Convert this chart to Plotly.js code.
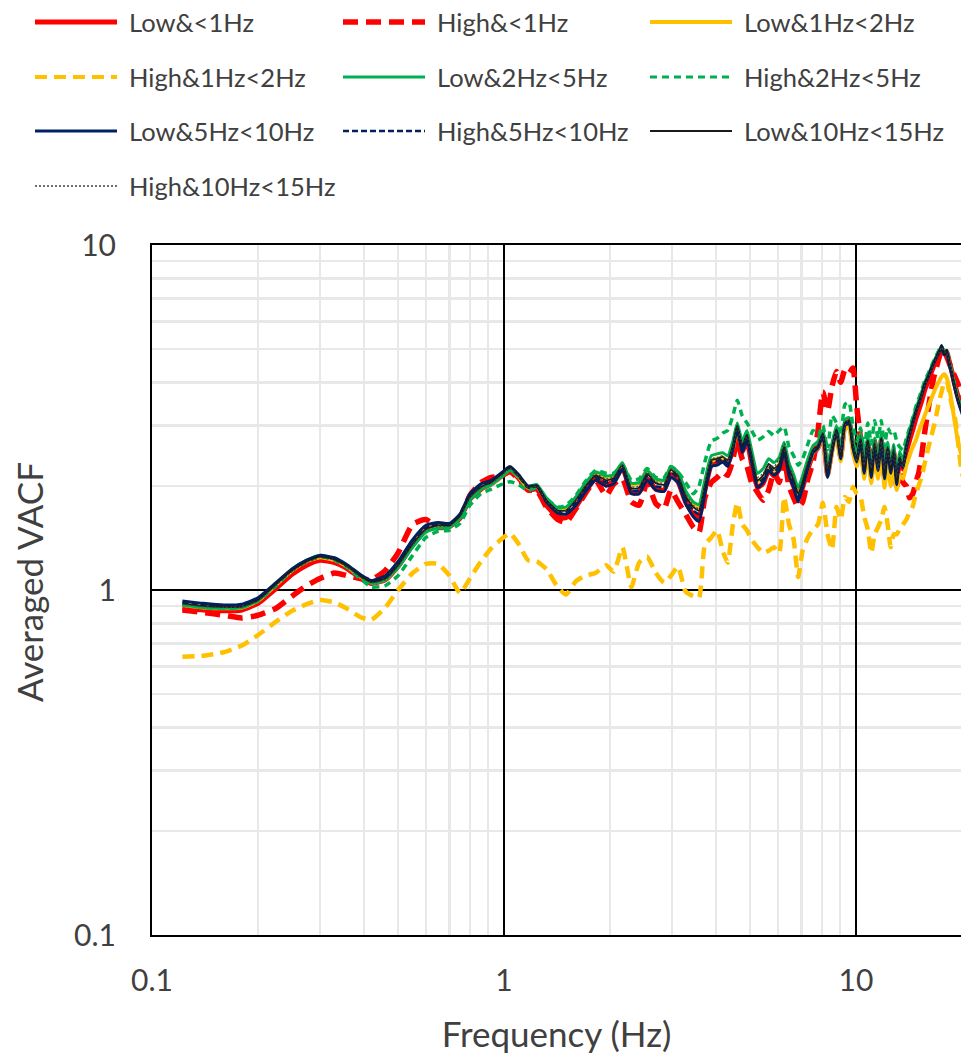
<!DOCTYPE html>
<html>
<head>
<meta charset="utf-8">
<script src="https://cdn.plot.ly/plotly-3.0.1.min.js"></script>
<style>
  html, body { margin: 0; padding: 0; background: #fff; overflow: hidden; }
  #chart { width: 961px; height: 1055px; }
</style>
</head>
<body>
<div id="chart"></div>
<script>
// Frequency sampling points (Hz)
const freq = [
  0.122,0.14,0.16,0.18,0.2,0.225,0.25,0.275,0.3,0.33,
  0.36,0.39,0.42,0.46,0.5,0.55,0.6,0.65,0.7,0.75,
  0.8,0.86,0.92,0.98,1.04,1.1,1.17,1.24,1.32,1.42,
  1.5,1.6,1.7,1.82,1.95,2.05,2.17,2.3,2.42,2.55,
  2.7,2.85,2.98,3.12,3.28,3.45,3.58,3.72,3.88,4.03,
  4.18,4.32,4.47,4.6,4.75,4.9,5.05,5.25,5.45,5.65,
  5.85,6.05,6.25,6.45,6.65,6.85,7.05,7.3,7.55,7.8,
  8.05,8.3,8.55,8.8,9.05,9.3,9.55,9.8,10.05,10.3,
  10.55,10.8,11.05,11.3,11.55,11.8,12.05,12.3,12.55,12.8,
  13.05,13.3,13.6,13.9,14.2,14.5,14.8,15.1,15.4,15.7,
  16.0,16.3,16.6,16.9,17.2,17.5,17.8,18.1,18.4,18.7,
  19.0,19.3,19.6,19.9,20.2
];

// Averaged VACF for each amplitude / frequency-band class
const lowBelow1 = [
  0.885,0.875,0.87,0.875,0.915,1.01,1.11,1.18,1.22,1.20,
  1.15,1.085,1.045,1.07,1.17,1.35,1.49,1.53,1.53,1.62,
  1.83,1.96,2.03,2.13,2.22,2.11,1.95,1.96,1.76,1.63,
  1.62,1.74,1.92,2.10,2.02,2.06,2.26,1.92,1.92,2.10,
  1.96,1.95,2.16,2.06,1.80,1.66,1.62,1.94,2.30,2.34,
  2.38,2.32,2.55,2.90,2.52,2.70,2.32,1.98,2.04,2.22,
  2.14,2.24,2.50,2.16,2.00,1.84,1.98,2.24,2.48,2.58,
  2.80,2.16,2.56,2.88,2.42,3.00,3.08,2.62,2.38,2.72,
  2.20,2.68,2.14,2.62,2.24,2.72,2.12,2.56,2.18,2.50,
  2.02,2.36,2.24,2.52,2.72,2.92,3.14,3.34,3.56,3.82,
  4.00,4.22,4.44,4.62,4.82,5.02,4.86,4.90,4.60,4.32,
  4.02,3.78,3.58,3.42,3.28
];
const highBelow1 = [
  0.875,0.86,0.845,0.83,0.845,0.885,0.96,1.03,1.08,1.12,
  1.10,1.08,1.07,1.14,1.28,1.55,1.60,1.52,1.53,1.62,
  1.88,2.05,2.12,2.14,2.20,2.10,1.95,1.94,1.74,1.60,
  1.57,1.72,1.90,2.08,1.88,2.03,2.10,1.80,1.76,2.05,
  1.78,1.72,1.95,1.80,1.66,1.52,1.47,1.85,2.05,2.12,
  2.20,2.15,2.40,2.72,2.40,2.28,2.05,1.92,1.82,1.95,
  2.20,2.05,2.42,2.00,1.85,1.74,1.80,2.10,2.35,2.90,
  3.75,3.30,3.90,4.30,4.00,4.35,4.25,4.40,3.40,2.75,
  2.30,2.65,2.20,2.70,2.25,2.60,2.20,2.50,2.15,2.45,
  2.00,2.20,2.05,2.00,1.85,1.90,2.05,2.20,2.50,2.90,
  3.30,3.70,4.10,4.40,4.70,4.95,5.00,4.75,4.55,4.35,
  4.20,4.05,3.90,3.75,3.65
];
const low1to2 = [
  0.905,0.89,0.885,0.89,0.93,1.035,1.14,1.21,1.245,1.22,
  1.165,1.095,1.05,1.075,1.17,1.35,1.49,1.53,1.53,1.63,
  1.84,1.97,2.03,2.13,2.24,2.13,1.98,2.00,1.82,1.70,
  1.71,1.85,2.02,2.18,2.12,2.15,2.32,2.02,2.04,2.22,
  2.08,2.08,2.27,2.18,1.92,1.78,1.74,2.02,2.36,2.40,
  2.42,2.36,2.58,2.94,2.58,2.76,2.42,2.06,2.12,2.28,
  2.22,2.30,2.56,2.22,2.05,1.88,2.02,2.28,2.50,2.58,
  2.78,2.14,2.50,2.82,2.36,2.92,2.96,2.50,2.28,2.58,
  2.10,2.52,2.04,2.46,2.10,2.52,1.98,2.36,2.00,2.28,
  1.95,2.15,2.10,2.30,2.45,2.60,2.72,2.90,3.05,3.22,
  3.38,3.55,3.72,3.88,4.02,4.15,4.22,4.12,3.85,3.50,
  3.15,2.85,2.62,2.48,2.38
];
const high1to2 = [
  0.64,0.645,0.66,0.69,0.74,0.81,0.87,0.91,0.935,0.92,
  0.88,0.835,0.82,0.89,1.00,1.12,1.19,1.19,1.10,0.98,
  1.08,1.21,1.32,1.40,1.46,1.36,1.22,1.21,1.15,1.02,
  0.97,1.06,1.10,1.12,1.18,1.13,1.33,1.02,1.20,1.25,
  1.12,1.05,1.10,1.17,0.99,0.96,0.95,1.35,1.42,1.49,
  1.30,1.20,1.55,1.79,1.55,1.49,1.40,1.33,1.28,1.30,
  1.33,1.28,1.86,1.55,1.40,1.09,1.30,1.42,1.50,1.55,
  1.79,1.45,1.31,1.74,1.60,1.86,1.80,1.99,1.90,1.86,
  1.63,1.50,1.28,1.45,1.52,1.60,1.74,1.55,1.33,1.45,
  1.45,1.50,1.55,1.60,1.68,1.75,1.90,2.02,2.15,2.35,
  2.55,2.75,2.95,3.20,3.50,3.75,4.00,4.05,3.75,3.45,
  3.25,2.95,2.55,2.25,2.10
];
const low2to5 = [
  0.905,0.89,0.885,0.89,0.93,1.04,1.15,1.22,1.26,1.23,
  1.17,1.095,1.045,1.07,1.16,1.33,1.47,1.51,1.52,1.61,
  1.82,1.96,2.02,2.12,2.22,2.13,2.00,2.02,1.85,1.73,
  1.74,1.86,2.04,2.20,2.14,2.16,2.34,2.04,2.05,2.22,
  2.10,2.08,2.28,2.20,1.94,1.80,1.77,2.08,2.45,2.48,
  2.50,2.45,2.70,3.05,2.70,2.90,2.55,2.18,2.25,2.40,
  2.34,2.42,2.68,2.34,2.16,1.98,2.14,2.40,2.62,2.70,
  2.92,2.30,2.66,3.00,2.55,3.12,3.16,2.72,2.48,2.84,
  2.32,2.80,2.28,2.76,2.38,2.84,2.26,2.68,2.32,2.64,
  2.16,2.52,2.38,2.70,2.92,3.14,3.36,3.56,3.78,4.02,
  4.18,4.38,4.58,4.75,4.92,5.08,4.88,4.94,4.58,4.28,
  3.98,3.72,3.52,3.36,3.22
];
const high2to5 = [
  0.905,0.89,0.885,0.89,0.93,1.03,1.14,1.21,1.25,1.22,
  1.16,1.08,1.02,1.03,1.10,1.26,1.42,1.48,1.49,1.56,
  1.76,1.90,1.96,2.02,2.06,2.02,1.94,1.98,1.84,1.74,
  1.76,1.88,2.06,2.22,2.18,2.18,2.30,2.08,2.10,2.25,
  2.12,2.12,2.28,2.20,2.05,1.90,2.00,2.35,2.70,2.75,
  2.85,2.90,3.20,3.55,3.20,3.05,2.90,2.72,2.78,2.88,
  2.80,2.90,2.97,2.60,2.45,2.30,2.40,2.65,2.90,2.80,
  3.00,2.55,3.20,3.05,2.80,3.45,3.50,3.00,2.70,2.95,
  2.55,3.05,2.65,3.10,2.75,3.10,2.60,2.95,2.85,2.90,
  2.70,2.60,2.55,2.75,2.95,3.15,3.40,3.60,3.82,4.05,
  4.22,4.40,4.60,4.78,4.95,5.10,4.90,4.95,4.60,4.30,
  4.00,3.74,3.54,3.38,3.24
];
const low5to10 = [
  0.93,0.915,0.905,0.91,0.95,1.05,1.15,1.22,1.26,1.24,
  1.18,1.11,1.065,1.10,1.21,1.40,1.54,1.57,1.56,1.66,
  1.90,2.03,2.08,2.18,2.28,2.16,2.00,2.00,1.80,1.67,
  1.66,1.76,1.92,2.08,2.00,2.03,2.24,1.90,1.90,2.08,
  1.95,1.93,2.12,2.05,1.78,1.63,1.58,1.90,2.28,2.30,
  2.35,2.28,2.55,2.92,2.50,2.72,2.35,1.98,2.05,2.22,
  2.15,2.22,2.50,2.15,1.98,1.80,1.98,2.25,2.50,2.58,
  2.80,2.12,2.52,2.88,2.40,3.00,3.05,2.58,2.35,2.70,
  2.18,2.66,2.12,2.60,2.22,2.70,2.10,2.55,2.18,2.50,
  2.02,2.38,2.26,2.58,2.82,3.05,3.28,3.48,3.70,3.95,
  4.12,4.32,4.52,4.70,4.88,5.05,4.80,4.92,4.50,4.22,
  3.92,3.66,3.46,3.30,3.15
];
const high5to10 = [
  0.92,0.905,0.898,0.90,0.94,1.045,1.145,1.215,1.255,1.23,
  1.175,1.105,1.06,1.09,1.20,1.39,1.52,1.55,1.55,1.66,
  1.89,2.02,2.07,2.17,2.26,2.14,1.98,2.00,1.80,1.69,
  1.69,1.80,1.96,2.12,2.05,2.08,2.27,1.94,1.95,2.14,
  2.00,1.99,2.20,2.10,1.83,1.70,1.66,1.96,2.34,2.36,
  2.40,2.34,2.58,2.96,2.58,2.78,2.40,2.04,2.10,2.28,
  2.20,2.28,2.56,2.20,2.04,1.86,2.02,2.28,2.52,2.60,
  2.82,2.16,2.55,2.90,2.42,3.02,3.08,2.60,2.38,2.72,
  2.20,2.70,2.16,2.64,2.25,2.74,2.12,2.58,2.20,2.52,
  2.04,2.40,2.28,2.60,2.84,3.06,3.28,3.48,3.70,3.96,
  4.14,4.34,4.54,4.72,4.90,5.12,4.86,4.96,4.56,4.24,
  3.94,3.68,3.48,3.34,3.18
];
const low10to15 = [
  0.915,0.90,0.893,0.895,0.935,1.04,1.14,1.21,1.25,1.225,
  1.17,1.10,1.055,1.08,1.18,1.36,1.50,1.54,1.54,1.64,
  1.86,1.99,2.05,2.16,2.27,2.15,1.99,2.01,1.82,1.70,
  1.70,1.82,1.99,2.15,2.08,2.11,2.30,1.97,1.98,2.17,
  2.04,2.02,2.23,2.14,1.87,1.74,1.70,2.00,2.38,2.40,
  2.43,2.38,2.62,3.00,2.62,2.82,2.45,2.08,2.15,2.32,
  2.25,2.32,2.60,2.25,2.08,1.90,2.05,2.32,2.55,2.62,
  2.85,2.20,2.58,2.92,2.45,3.05,3.10,2.62,2.40,2.75,
  2.22,2.72,2.18,2.66,2.28,2.76,2.15,2.60,2.22,2.55,
  2.06,2.42,2.30,2.62,2.85,3.08,3.30,3.50,3.72,3.98,
  4.15,4.35,4.55,4.72,4.90,5.10,4.85,4.95,4.55,4.25,
  3.95,3.70,3.50,3.35,3.20
];
const high10to15 = [
  0.91,0.895,0.89,0.893,0.93,1.03,1.13,1.20,1.24,1.22,
  1.16,1.09,1.05,1.07,1.17,1.35,1.49,1.53,1.53,1.63,
  1.85,1.98,2.04,2.14,2.25,2.14,1.98,2.00,1.81,1.69,
  1.70,1.83,2.00,2.17,2.10,2.13,2.31,1.99,2.00,2.19,
  2.06,2.04,2.25,2.16,1.90,1.76,1.72,2.03,2.40,2.42,
  2.45,2.36,2.60,2.96,2.66,2.78,2.50,2.12,2.18,2.30,
  2.28,2.40,2.66,2.30,2.12,1.95,2.10,2.36,2.52,2.66,
  2.80,2.26,2.62,2.86,2.52,2.98,3.14,2.70,2.36,2.80,
  2.30,2.64,2.26,2.72,2.22,2.70,2.24,2.54,2.30,2.62,
  2.12,2.48,2.26,2.58,2.80,3.02,3.26,3.46,3.68,3.92,
  4.10,4.30,4.50,4.68,4.86,5.05,4.90,4.88,4.60,4.28,
  3.98,3.72,3.52,3.36,3.22
];

const seriesNames = [
  'Low&<1Hz', 'High&<1Hz', 'Low&1Hz<2Hz',
  'High&1Hz<2Hz', 'Low&2Hz<5Hz', 'High&2Hz<5Hz',
  'Low&5Hz<10Hz', 'High&5Hz<10Hz', 'Low&10Hz<15Hz',
  'High&10Hz<15Hz'
];
const seriesValues = [
  lowBelow1, highBelow1, low1to2, high1to2, low2to5,
  high2to5, low5to10, high5to10, low10to15, high10to15
];

// Line styling per class
const styles = [
  { color: '#FF0000', width: 5,   dash: 'solid' },
  { color: '#FF0000', width: 5.5, dash: '15px,8px' },
  { color: '#FFC000', width: 4,   dash: 'solid' },
  { color: '#FFC000', width: 4.5, dash: '12px,7px' },
  { color: '#00B050', width: 3,   dash: 'solid' },
  { color: '#00B050', width: 3.5, dash: '7px,5px' },
  { color: '#002060', width: 3,   dash: 'solid' },
  { color: '#002060', width: 2.6, dash: '6px,3px' },
  { color: '#1a1a1a', width: 1.8, dash: 'solid' },
  { color: '#404040', width: 1.2, dash: '2px,2px' }
];

const traces = seriesNames.map((name, i) => ({
  type: 'scatter',
  mode: 'lines',
  name: name,
  x: freq,
  y: seriesValues[i],
  line: { color: styles[i].color, width: styles[i].width, dash: styles[i].dash,
          shape: 'spline', smoothing: 0.5 },
  showlegend: false,
  hoverinfo: 'skip'
}));

// Plot frame in page pixels
const M = { l: 152, r: 0, t: 245, b: 120 };
const W = 961, H = 1055;
const plotW = W - M.l - M.r, plotH = H - M.t - M.b;
const px = x => (x - M.l) / plotW;
const py = y => (H - M.b - y) / plotH;

// Legend laid out in three columns above the plot
const colX = [35, 343, 650];
const rowY = [22, 77, 131, 186];
const legendWidth = [5, 5.5, 4, 4, 3, 3, 3, 2.6, 2.2, 1.5];
const shapes = [];
const annotations = [];
seriesNames.forEach((name, i) => {
  const c = i % 3, r = Math.floor(i / 3);
  shapes.push({
    type: 'line', xref: 'paper', yref: 'paper',
    x0: px(colX[c]), x1: px(colX[c] + 82),
    y0: py(rowY[r]), y1: py(rowY[r]),
    line: { color: styles[i].color, width: legendWidth[i], dash: styles[i].dash }
  });
  annotations.push({
    xref: 'paper', yref: 'paper',
    x: px(colX[c] + 92), y: py(rowY[r]),
    xanchor: 'left', yanchor: 'middle',
    text: name.replace(/&/g, '&amp;').replace(/</g, '&lt;'),
    showarrow: false,
    font: { family: 'Lato, sans-serif', size: 25.5, color: '#404040' }
  });
});

annotations.push({
  xref: 'paper', yref: 'paper',
  x: px(29), y: py(582),
  xanchor: 'center', yanchor: 'middle',
  textangle: -90,
  text: 'Averaged VACF',
  showarrow: false,
  font: { family: 'Lato, sans-serif', size: 35, color: '#404040' }
});

const minorX = [0.2,0.3,0.4,0.5,0.6,0.7,0.8,0.9,2,3,4,5,6,7,8,9,20];
const minorY = [0.2,0.3,0.4,0.5,0.6,0.7,0.8,0.9,2,3,4,5,6,7,8,9];

const layout = {
  width: W, height: H,
  margin: M,
  paper_bgcolor: '#ffffff',
  plot_bgcolor: '#ffffff',
  font: { family: 'Lato, sans-serif', color: '#404040' },
  xaxis: {
    type: 'log',
    range: [-1, -1 + plotW / 352],
    tickvals: [0.1, 1, 10],
    ticktext: ['0.1', '1', '10'],
    tickfont: { size: 30, color: '#404040' },
    ticks: '',
    ticklabelstandoff: 18,
    showgrid: true, gridcolor: '#000000', gridwidth: 2,
    minor: { tickvals: minorX, showgrid: true, gridcolor: '#e8e8e8', gridwidth: 2.5, ticks: '' },
    showline: true, linecolor: '#000000', linewidth: 2, mirror: true,
    zeroline: false,
    title: { text: 'Frequency (Hz)', font: { size: 35, color: '#404040' }, standoff: 26 }
  },
  yaxis: {
    type: 'log',
    range: [-1, 1],
    tickvals: [0.1, 1, 10],
    ticktext: ['0.1', '1', '10'],
    tickfont: { size: 30, color: '#404040' },
    ticks: '',
    ticklabelstandoff: 28,
    showgrid: true, gridcolor: '#000000', gridwidth: 2,
    minor: { tickvals: minorY, showgrid: true, gridcolor: '#e8e8e8', gridwidth: 2.5, ticks: '' },
    showline: true, linecolor: '#000000', linewidth: 2, mirror: false,
    zeroline: false
  },
  shapes: shapes,
  annotations: annotations,
  showlegend: false
};

Plotly.newPlot('chart', traces, layout, { staticPlot: true, displayModeBar: false });
</script>
</body>
</html>
